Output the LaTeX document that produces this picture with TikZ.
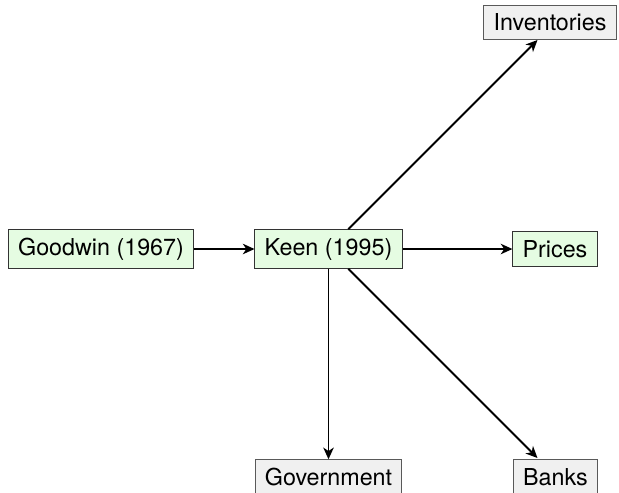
\documentclass[tikz,border=0pt]{standalone}
\usepackage{fontspec}
\setmainfont{TeX Gyre Heros}
\usetikzlibrary{positioning,calc,arrows.meta}
\definecolor{modelgreen}{RGB}{229,252,226}
\definecolor{blockgray}{RGB}{240,240,240}
\tikzset{
  model/.style={draw=black!80,fill=modelgreen,inner xsep=4.2pt,inner ysep=3.6pt},
  block/.style={draw=black!65,fill=blockgray,inner xsep=4.2pt,inner ysep=3.6pt},
  link/.style={thick,-{Stealth[length=5pt,width=4.5pt,inset=1.5pt]}}
}

\begin{document}
\begin{tikzpicture}[x=0.4292pt,y=-0.4292pt]
% Frame of the picture, counted in pixels from the top left
\useasboundingbox (0,0) rectangle (619,492);
% The two models in a row
\node[model] (goodwin) at (101,249) {Goodwin (1967)};
\node[model] (keen) at (328.5,249) {Keen (1995)};
% Extensions of Keen's model
\node[model] (prices) at (555,249) {Prices};
\node[block] (inventories) at (550,22.5) {Inventories};
\node[block] (government) at (328.5,477) {Government};
\node[block] (banks) at (555.5,477) {Banks};
% Diagonal arrows leave keen at 45 degrees
\coordinate (invtip) at ($(keen.center)+(209,-209)$);
\coordinate (banktip) at ($(keen.center)+(209,209)$);
% Connect them
\draw[link] (goodwin) -- (keen);
\draw[link] (keen) -- (prices);
\draw[link] (keen) -- (government);
\draw[link] (keen) -- (invtip);
\draw[link] (keen) -- (banktip);
\end{tikzpicture}
\end{document}
